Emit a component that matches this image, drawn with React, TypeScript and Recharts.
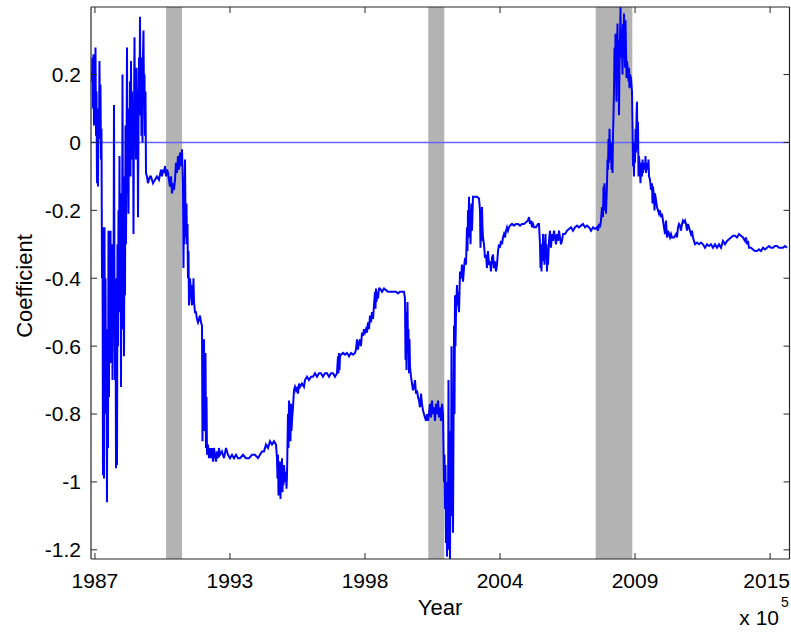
import { LineChart, Line, XAxis, YAxis, ReferenceArea, ReferenceLine } from "recharts"

// [decimal year, coefficient]
const late1980s: [number, number][] = [
  [1987.598, 0.18], [1987.618, 0.25], [1987.639, 0.1], [1987.659, 0.26], [1987.679, 0.05],
  [1987.7, 0.2], [1987.72, 0.12], [1987.74, 0.28], [1987.761, 0.02], [1987.781, 0.15],
  [1987.801, -0.12], [1987.821, 0.05], [1987.842, -0.13], [1987.862, 0.1], [1987.882, 0.01],
  [1987.902, 0.24], [1987.923, 0.03], [1987.943, 0.17], [1987.963, -0.05], [1987.983, 0.04],
  [1988.004, -0.4], [1988.024, -0.25], [1988.044, -0.98], [1988.064, -0.5], [1988.085, -0.99],
  [1988.105, -0.25], [1988.126, -0.78], [1988.146, -0.4], [1988.166, -0.8], [1988.186, -0.58],
  [1988.206, -1.06], [1988.227, -0.55], [1988.247, -0.9], [1988.267, -0.26], [1988.288, -0.75],
  [1988.308, -0.3], [1988.328, -0.6], [1988.349, -0.26], [1988.369, -0.65], [1988.409, -0.3],
  [1988.43, -0.7], [1988.45, -0.35], [1988.47, -0.55], [1988.49, 0.11], [1988.511, -0.45],
  [1988.531, -0.7], [1988.551, -0.4], [1988.572, -0.96], [1988.592, -0.55], [1988.612, -0.95],
  [1988.632, -0.3], [1988.653, -0.6], [1988.673, -0.2], [1988.693, -0.5], [1988.713, -0.04],
  [1988.734, -0.45], [1988.754, -0.15], [1988.774, -0.72], [1988.794, -0.3], [1988.815, -0.55],
  [1988.835, 0.2], [1988.855, -0.35], [1988.876, -0.1], [1988.896, -0.63], [1988.916, -0.2],
  [1988.937, -0.45], [1988.957, 0.05], [1988.977, -0.3], [1988.997, -0.05], [1989.018, 0.28],
  [1989.038, -0.15], [1989.058, 0.05], [1989.078, -0.21], [1989.099, 0.1], [1989.119, -0.05],
  [1989.139, 0.18], [1989.16, -0.1], [1989.18, 0.24], [1989.2, 0.0], [1989.22, 0.15],
  [1989.241, -0.05], [1989.261, 0.12], [1989.281, -0.27], [1989.301, 0.05], [1989.322, 0.31],
  [1989.342, 0.05], [1989.362, 0.2], [1989.383, -0.05], [1989.403, 0.22], [1989.423, 0.02],
  [1989.443, 0.15], [1989.464, -0.22], [1989.484, 0.05], [1989.504, 0.25], [1989.524, 0.1],
  [1989.545, 0.37], [1989.565, 0.08], [1989.585, 0.25], [1989.605, 0.02], [1989.626, 0.2],
  [1989.646, 0.0], [1989.666, 0.25], [1989.686, 0.33], [1989.707, 0.12], [1989.727, 0.2],
  [1989.747, 0.02], [1989.768, 0.15], [1989.788, -0.09],
]

const early1990s: [number, number][] = [
  [1989.828, -0.1], [1989.869, -0.12], [1989.909, -0.11], [1989.95, -0.1], [1989.991, -0.1],
  [1990.072, -0.12], [1990.153, -0.11], [1990.234, -0.1], [1990.315, -0.11], [1990.396, -0.08],
  [1990.437, -0.1], [1990.477, -0.08], [1990.518, -0.09], [1990.558, -0.07], [1990.599, -0.1],
  [1990.639, -0.08], [1990.68, -0.09], [1990.72, -0.11], [1990.761, -0.13], [1990.802, -0.1],
  [1990.842, -0.15], [1990.883, -0.12], [1990.923, -0.14], [1990.964, -0.11], [1991.004, -0.06],
  [1991.045, -0.09], [1991.086, -0.04], [1991.126, -0.08], [1991.167, -0.03], [1991.207, -0.07],
  [1991.248, -0.02], [1991.288, -0.12], [1991.308, -0.37], [1991.329, -0.15], [1991.349, -0.3],
  [1991.37, -0.05], [1991.39, -0.22], [1991.41, -0.28], [1991.43, -0.18], [1991.451, -0.3],
  [1991.471, -0.24], [1991.491, -0.4], [1991.511, -0.32], [1991.532, -0.48], [1991.572, -0.4],
  [1991.613, -0.44], [1991.653, -0.48], [1991.674, -0.42], [1991.694, -0.46], [1991.714, -0.4],
  [1991.734, -0.47], [1991.775, -0.5], [1991.815, -0.5], [1991.856, -0.52], [1991.897, -0.53],
  [1991.937, -0.52], [1991.978, -0.51], [1992.018, -0.53], [1992.059, -0.54], [1992.079, -0.88],
  [1992.099, -0.62], [1992.12, -0.78], [1992.14, -0.58], [1992.16, -0.85], [1992.18, -0.7],
  [1992.201, -0.62], [1992.221, -0.9], [1992.241, -0.75], [1992.262, -0.92], [1992.302, -0.89],
  [1992.343, -0.93], [1992.383, -0.9], [1992.424, -0.93], [1992.464, -0.9], [1992.505, -0.94],
  [1992.545, -0.9], [1992.586, -0.92], [1992.627, -0.94], [1992.667, -0.91], [1992.708, -0.93],
  [1992.748, -0.9], [1992.789, -0.92], [1992.87, -0.91], [1992.951, -0.93], [1993.032, -0.9],
  [1993.113, -0.92], [1993.194, -0.93], [1993.275, -0.92], [1993.356, -0.93], [1993.438, -0.92],
  [1993.519, -0.93], [1993.6, -0.93], [1993.721, -0.92], [1993.843, -0.93], [1993.965, -0.93],
  [1994.086, -0.92], [1994.208, -0.92], [1994.33, -0.93], [1994.411, -0.92], [1994.492, -0.91],
  [1994.573, -0.91], [1994.654, -0.89], [1994.735, -0.9], [1994.816, -0.88], [1994.897, -0.89],
  [1994.978, -0.88], [1995.06, -0.89], [1995.1, -0.93], [1995.12, -0.99], [1995.141, -0.92],
  [1995.161, -1.04], [1995.181, -0.95], [1995.201, -1.02], [1995.222, -0.94], [1995.242, -1.05],
  [1995.262, -0.96], [1995.282, -1.0], [1995.303, -0.93], [1995.323, -1.03], [1995.343, -0.97],
  [1995.364, -1.01], [1995.384, -0.95], [1995.424, -1.0], [1995.465, -0.97], [1995.485, -1.02],
  [1995.506, -0.98], [1995.546, -0.8], [1995.566, -0.9], [1995.587, -0.76], [1995.627, -0.8],
  [1995.647, -0.88], [1995.668, -0.77], [1995.688, -0.85], [1995.708, -0.82], [1995.749, -0.78],
  [1995.789, -0.73], [1995.83, -0.72], [1995.87, -0.73], [1995.911, -0.72], [1995.951, -0.74],
  [1995.992, -0.71], [1996.033, -0.72],
]

const late1990s: [number, number][] = [
  [1996.113, -0.71], [1996.194, -0.72], [1996.235, -0.7], [1996.316, -0.69], [1996.397, -0.7],
  [1996.479, -0.69], [1996.56, -0.69], [1996.641, -0.68], [1996.722, -0.69], [1996.803, -0.68],
  [1996.884, -0.68], [1996.965, -0.69], [1997.047, -0.68], [1997.128, -0.68], [1997.209, -0.69],
  [1997.29, -0.68], [1997.371, -0.68], [1997.452, -0.69], [1997.533, -0.68], [1997.574, -0.63],
  [1997.594, -0.68], [1997.614, -0.62], [1997.635, -0.67], [1997.655, -0.63], [1997.696, -0.625],
  [1997.777, -0.62], [1997.858, -0.625], [1997.939, -0.62], [1998.02, -0.63], [1998.101, -0.62],
  [1998.182, -0.625], [1998.263, -0.62], [1998.304, -0.61], [1998.344, -0.58], [1998.385, -0.61],
  [1998.425, -0.59], [1998.466, -0.58], [1998.506, -0.6], [1998.547, -0.56], [1998.587, -0.57],
  [1998.628, -0.55], [1998.669, -0.56], [1998.709, -0.55], [1998.75, -0.56], [1998.79, -0.53],
  [1998.831, -0.55], [1998.871, -0.51], [1998.912, -0.53], [1998.952, -0.5], [1998.993, -0.52],
  [1999.033, -0.48], [1999.074, -0.44], [1999.094, -0.49], [1999.115, -0.43], [1999.135, -0.47],
  [1999.155, -0.44], [1999.196, -0.46], [1999.236, -0.43], [1999.277, -0.43], [1999.358, -0.44],
  [1999.439, -0.43], [1999.52, -0.435], [1999.601, -0.44], [1999.682, -0.44], [1999.763, -0.44],
  [1999.844, -0.44], [1999.926, -0.44], [2000.007, -0.445], [2000.088, -0.44], [2000.169, -0.44],
  [2000.25, -0.44], [2000.29, -0.46], [2000.311, -0.64], [2000.331, -0.5], [2000.351, -0.67],
  [2000.371, -0.55], [2000.392, -0.47], [2000.412, -0.62], [2000.432, -0.55], [2000.453, -0.68],
  [2000.473, -0.58], [2000.493, -0.66], [2000.534, -0.69], [2000.574, -0.71], [2000.615, -0.73],
  [2000.655, -0.72], [2000.696, -0.7], [2000.737, -0.74], [2000.777, -0.73], [2000.818, -0.75],
  [2000.858, -0.76], [2000.899, -0.78], [2000.939, -0.74], [2000.98, -0.77], [2001.02, -0.79],
  [2001.061, -0.8], [2001.101, -0.81], [2001.142, -0.82], [2001.183, -0.8], [2001.223, -0.82],
  [2001.264, -0.8], [2001.304, -0.77], [2001.345, -0.81], [2001.385, -0.76], [2001.426, -0.8],
  [2001.466, -0.78], [2001.507, -0.82], [2001.548, -0.77], [2001.588, -0.8], [2001.629, -0.76],
  [2001.669, -0.81], [2001.71, -0.78], [2001.75, -0.82], [2001.791, -0.77], [2001.831, -0.8],
]

const early2000s: [number, number][] = [
  [2001.852, -0.9], [2001.872, -1.0], [2001.892, -0.92], [2001.913, -1.08], [2001.933, -0.95],
  [2001.953, -1.18], [2001.973, -1.0], [2001.994, -1.22], [2002.014, -1.05], [2002.034, -1.15],
  [2002.054, -0.7], [2002.075, -1.2], [2002.095, -0.85], [2002.115, -1.23], [2002.136, -0.95],
  [2002.156, -1.1], [2002.176, -0.6], [2002.196, -1.05], [2002.217, -0.85], [2002.237, -1.15],
  [2002.278, -0.54], [2002.298, -0.8], [2002.318, -0.45], [2002.338, -0.6], [2002.359, -0.5],
  [2002.399, -0.42], [2002.42, -0.48], [2002.44, -0.44], [2002.481, -0.5], [2002.521, -0.38],
  [2002.562, -0.4], [2002.602, -0.36], [2002.643, -0.41], [2002.683, -0.37], [2002.724, -0.34],
  [2002.764, -0.36], [2002.805, -0.25], [2002.825, -0.32], [2002.845, -0.2], [2002.866, -0.28],
  [2002.886, -0.16], [2002.906, -0.26], [2002.926, -0.2], [2002.947, -0.3], [2002.967, -0.22],
  [2002.987, -0.18], [2003.007, -0.26], [2003.048, -0.16], [2003.129, -0.16], [2003.21, -0.16],
  [2003.291, -0.165], [2003.332, -0.2], [2003.352, -0.31], [2003.372, -0.22], [2003.393, -0.29],
  [2003.413, -0.19], [2003.433, -0.25], [2003.453, -0.28], [2003.494, -0.3], [2003.535, -0.34],
  [2003.575, -0.33], [2003.616, -0.37], [2003.656, -0.32], [2003.697, -0.36], [2003.737, -0.35],
  [2003.778, -0.38], [2003.818, -0.34], [2003.859, -0.33], [2003.899, -0.37], [2003.94, -0.35],
  [2003.981, -0.38], [2004.021, -0.36], [2004.062, -0.32], [2004.102, -0.3], [2004.143, -0.31],
  [2004.183, -0.29], [2004.224, -0.3], [2004.264, -0.28], [2004.305, -0.27], [2004.345, -0.28],
  [2004.386, -0.26], [2004.427, -0.25], [2004.467, -0.26], [2004.508, -0.25], [2004.548, -0.245],
  [2004.629, -0.24], [2004.71, -0.245], [2004.792, -0.24], [2004.873, -0.24], [2004.954, -0.245],
  [2005.035, -0.24], [2005.116, -0.24], [2005.197, -0.235], [2005.278, -0.23], [2005.319, -0.22],
  [2005.359, -0.24], [2005.4, -0.23], [2005.44, -0.25], [2005.481, -0.24], [2005.521, -0.25],
  [2005.603, -0.25], [2005.684, -0.24], [2005.724, -0.24], [2005.765, -0.3], [2005.785, -0.37],
  [2005.805, -0.33], [2005.826, -0.38], [2005.846, -0.3], [2005.866, -0.35], [2005.887, -0.27],
  [2005.907, -0.34], [2005.927, -0.29], [2005.947, -0.36], [2005.968, -0.31], [2005.988, -0.27],
  [2006.008, -0.34], [2006.028, -0.3], [2006.049, -0.38], [2006.069, -0.32], [2006.089, -0.36],
  [2006.13, -0.29], [2006.17, -0.26], [2006.211, -0.31], [2006.251, -0.27], [2006.292, -0.29],
  [2006.332, -0.26], [2006.373, -0.28], [2006.414, -0.3], [2006.454, -0.27], [2006.495, -0.29],
  [2006.535, -0.26], [2006.576, -0.28], [2006.616, -0.3], [2006.657, -0.29], [2006.697, -0.27],
  [2006.779, -0.27], [2006.86, -0.26], [2006.941, -0.255], [2007.022, -0.25], [2007.103, -0.26],
  [2007.184, -0.25], [2007.265, -0.245], [2007.346, -0.25], [2007.427, -0.245], [2007.508, -0.24],
  [2007.59, -0.25], [2007.671, -0.245], [2007.752, -0.25], [2007.833, -0.26], [2007.914, -0.25],
  [2007.995, -0.255], [2008.076, -0.25], [2008.117, -0.26], [2008.157, -0.24], [2008.198, -0.25],
  [2008.238, -0.23],
]

const crisis: [number, number][] = [
  [2008.279, -0.19], [2008.319, -0.22], [2008.34, -0.13], [2008.36, -0.18], [2008.38, -0.12],
  [2008.401, -0.2], [2008.421, -0.16], [2008.441, -0.21], [2008.482, -0.12], [2008.502, -0.05],
  [2008.522, -0.08], [2008.543, 0.01], [2008.563, -0.06], [2008.583, 0.04], [2008.603, -0.02],
  [2008.624, -0.05], [2008.644, 0.0], [2008.664, -0.08], [2008.684, -0.03], [2008.705, -0.09],
  [2008.725, 0.02], [2008.745, 0.08], [2008.765, 0.15], [2008.786, 0.28], [2008.806, 0.18],
  [2008.826, 0.32], [2008.847, 0.22], [2008.867, 0.12], [2008.887, 0.25], [2008.907, 0.35],
  [2008.928, 0.2], [2008.948, 0.3], [2008.968, 0.08], [2008.988, 0.22], [2009.009, 0.3],
  [2009.029, 0.4], [2009.049, 0.25], [2009.069, 0.33], [2009.09, 0.28], [2009.11, 0.2],
  [2009.13, 0.35], [2009.151, 0.25], [2009.171, 0.38], [2009.191, 0.3], [2009.211, 0.22],
  [2009.232, 0.36], [2009.252, 0.27], [2009.272, 0.19], [2009.292, 0.24], [2009.333, 0.21],
  [2009.353, 0.18], [2009.374, 0.22], [2009.394, 0.16], [2009.414, 0.2], [2009.455, 0.19],
  [2009.495, 0.15], [2009.516, 0.05], [2009.536, -0.07], [2009.556, -0.02], [2009.576, -0.1],
  [2009.597, 0.0], [2009.617, -0.06], [2009.637, 0.04], [2009.658, -0.03], [2009.678, 0.08],
  [2009.698, 0.12], [2009.718, -0.02], [2009.739, 0.06], [2009.759, -0.1], [2009.779, -0.04],
  [2009.82, -0.08], [2009.84, -0.12], [2009.86, -0.06], [2009.901, -0.1], [2009.921, -0.05],
  [2009.941, -0.09], [2009.982, -0.06], [2010.022, -0.08], [2010.043, -0.04], [2010.063, -0.09],
  [2010.103, -0.06], [2010.144, -0.08], [2010.164, -0.05], [2010.185, -0.1], [2010.225, -0.11],
]

const recovery: [number, number][] = [
  [2010.266, -0.14], [2010.306, -0.12], [2010.326, -0.18], [2010.347, -0.13], [2010.387, -0.16],
  [2010.408, -0.2], [2010.428, -0.15], [2010.469, -0.17], [2010.509, -0.19], [2010.55, -0.2],
  [2010.59, -0.21], [2010.631, -0.2], [2010.671, -0.22], [2010.712, -0.21], [2010.752, -0.23],
  [2010.793, -0.25], [2010.834, -0.27], [2010.874, -0.23], [2010.915, -0.28], [2010.955, -0.26],
  [2010.996, -0.27], [2011.036, -0.28], [2011.077, -0.27], [2011.117, -0.28], [2011.198, -0.28],
  [2011.28, -0.27], [2011.32, -0.28], [2011.361, -0.25], [2011.401, -0.24], [2011.442, -0.245],
  [2011.482, -0.26], [2011.523, -0.24], [2011.563, -0.23], [2011.604, -0.235], [2011.645, -0.23],
  [2011.685, -0.24], [2011.726, -0.26], [2011.766, -0.24], [2011.807, -0.25], [2011.847, -0.26],
  [2011.888, -0.27], [2011.928, -0.26], [2011.969, -0.28], [2012.009, -0.29], [2012.05, -0.3],
  [2012.131, -0.295], [2012.212, -0.3], [2012.293, -0.295], [2012.374, -0.3], [2012.456, -0.31],
  [2012.537, -0.3], [2012.618, -0.305], [2012.699, -0.3], [2012.78, -0.31], [2012.861, -0.3],
  [2012.942, -0.31], [2013.023, -0.3], [2013.104, -0.31], [2013.185, -0.29], [2013.267, -0.3],
  [2013.348, -0.29], [2013.429, -0.285], [2013.51, -0.28], [2013.591, -0.275], [2013.672, -0.275],
  [2013.753, -0.28], [2013.834, -0.27], [2013.915, -0.275], [2013.996, -0.28], [2014.078, -0.29],
  [2014.118, -0.28], [2014.159, -0.3], [2014.199, -0.29], [2014.24, -0.31], [2014.321, -0.31],
  [2014.402, -0.315], [2014.483, -0.32], [2014.564, -0.32], [2014.645, -0.315], [2014.726, -0.32],
  [2014.807, -0.31], [2014.889, -0.315], [2014.97, -0.31], [2015.051, -0.305], [2015.132, -0.31],
  [2015.213, -0.31], [2015.294, -0.305], [2015.375, -0.305], [2015.456, -0.31], [2015.537, -0.31],
  [2015.618, -0.31], [2015.7, -0.305], [2015.781, -0.31],
]

// NBER recessions, [start, end] in decimal years
const recessions: [number, number][] = [
  [1990.6, 1991.25],
  [2001.235, 2001.884],
  [2008.024, 2009.508],
]

// tick positions are datenums 726000 ... 736000
const xTicks = [1987.718, 1993.192, 1998.668, 2004.145, 2009.619, 2015.096]
const xTickLabels = ["1987", "1993", "1998", "2004", "2009", "2015"]
const yTicks = [-1.2, -1, -0.8, -0.6, -0.4, -0.2, 0, 0.2]

const xDomain = [1987.558, 2015.882]
const yDomain = [-1.227, 0.399]

const series = [...late1980s, ...early1990s, ...late1990s, ...early2000s, ...crisis, ...recovery].map(
  ([x, y]) => ({ x, y })
)

const font = '"Liberation Sans", Arial, Helvetica, sans-serif'
const axisColor = "#262626"

// last label sits flush with the right edge, like the MATLAB figure
const YearTick = (props: any) => {
  const { x, y, payload } = props
  const i = xTicks.indexOf(payload.value)
  const last = i === xTicks.length - 1
  return (
    <text
      x={last ? 790 : x}
      y={y}
      dy="0.71em"
      textAnchor={last ? "end" : "middle"}
      fontSize={21}
      fontFamily={font}
      fill="#000"
    >
      {xTickLabels[i]}
    </text>
  )
}

export default function App() {
  return (
    <div style={{ position: "absolute", left: 0, top: 0, width: 791, height: 633, background: "#fff", fontFamily: font }}>
      <LineChart width={791} height={633} data={series} margin={{ top: 0, right: 0, bottom: 0, left: 0 }}>
        <XAxis
          xAxisId="b"
          dataKey="x"
          type="number"
          orientation="bottom"
          domain={xDomain}
          allowDataOverflow
          ticks={xTicks}
          interval={0}
          height={74}
          tickSize={-6}
          tickMargin={20}
          axisLine={{ stroke: axisColor, strokeWidth: 1.2 }}
          tickLine={{ stroke: axisColor }}
          tick={YearTick}
        />
        <XAxis
          xAxisId="t"
          dataKey="x"
          type="number"
          orientation="top"
          domain={xDomain}
          allowDataOverflow
          ticks={xTicks}
          interval={0}
          tickFormatter={() => ""}
          height={7}
          tickSize={-6}
          axisLine={{ stroke: axisColor, strokeWidth: 1.2 }}
          tickLine={{ stroke: axisColor }}
        />
        <YAxis
          yAxisId="l"
          type="number"
          orientation="left"
          domain={yDomain}
          allowDataOverflow
          ticks={yTicks}
          interval={0}
          width={91}
          tickSize={-6}
          tickMargin={16}
          axisLine={{ stroke: axisColor, strokeWidth: 1.2 }}
          tickLine={{ stroke: axisColor }}
          tick={{ fill: "#000", fontSize: 21, fontFamily: font }}
        />
        <YAxis
          yAxisId="r"
          type="number"
          orientation="right"
          domain={yDomain}
          allowDataOverflow
          ticks={yTicks}
          interval={0}
          width={1.5}
          tickSize={-6}
          tickFormatter={() => ""}
          axisLine={{ stroke: axisColor, strokeWidth: 1.2 }}
          tickLine={{ stroke: axisColor }}
        />
        {recessions.map(([start, end]) => (
          <ReferenceArea
            key={start}
            xAxisId="b"
            yAxisId="l"
            x1={start}
            x2={end}
            fill="#b3b3b3"
            fillOpacity={1}
            stroke="none"
          />
        ))}
        <ReferenceLine xAxisId="b" yAxisId="l" y={0} stroke="#6464ff" strokeWidth={1.5} />
        <Line
          xAxisId="b"
          yAxisId="l"
          dataKey="y"
          type="linear"
          stroke="#0000ff"
          strokeWidth={2}
          dot={false}
          activeDot={false}
          isAnimationActive={false}
        />
      </LineChart>
      <svg width={791} height={633} style={{ position: "absolute", left: 0, top: 0, pointerEvents: "none" }}>
        <text x={32} y={286} transform="rotate(-90 32 286)" textAnchor="middle" fontSize={22} fontFamily={font} fill="#000">
          Coefficient
        </text>
        <text x={440} y={615} textAnchor="middle" fontSize={22} fontFamily={font} fill="#000">
          Year
        </text>
        <text x={779} y={625} textAnchor="end" fontSize={21} fontFamily={font} fill="#000">
          x 10
        </text>
        <text x={781} y={607} fontSize={14} fontFamily={font} fill="#000">
          5
        </text>
      </svg>
    </div>
  )
}
